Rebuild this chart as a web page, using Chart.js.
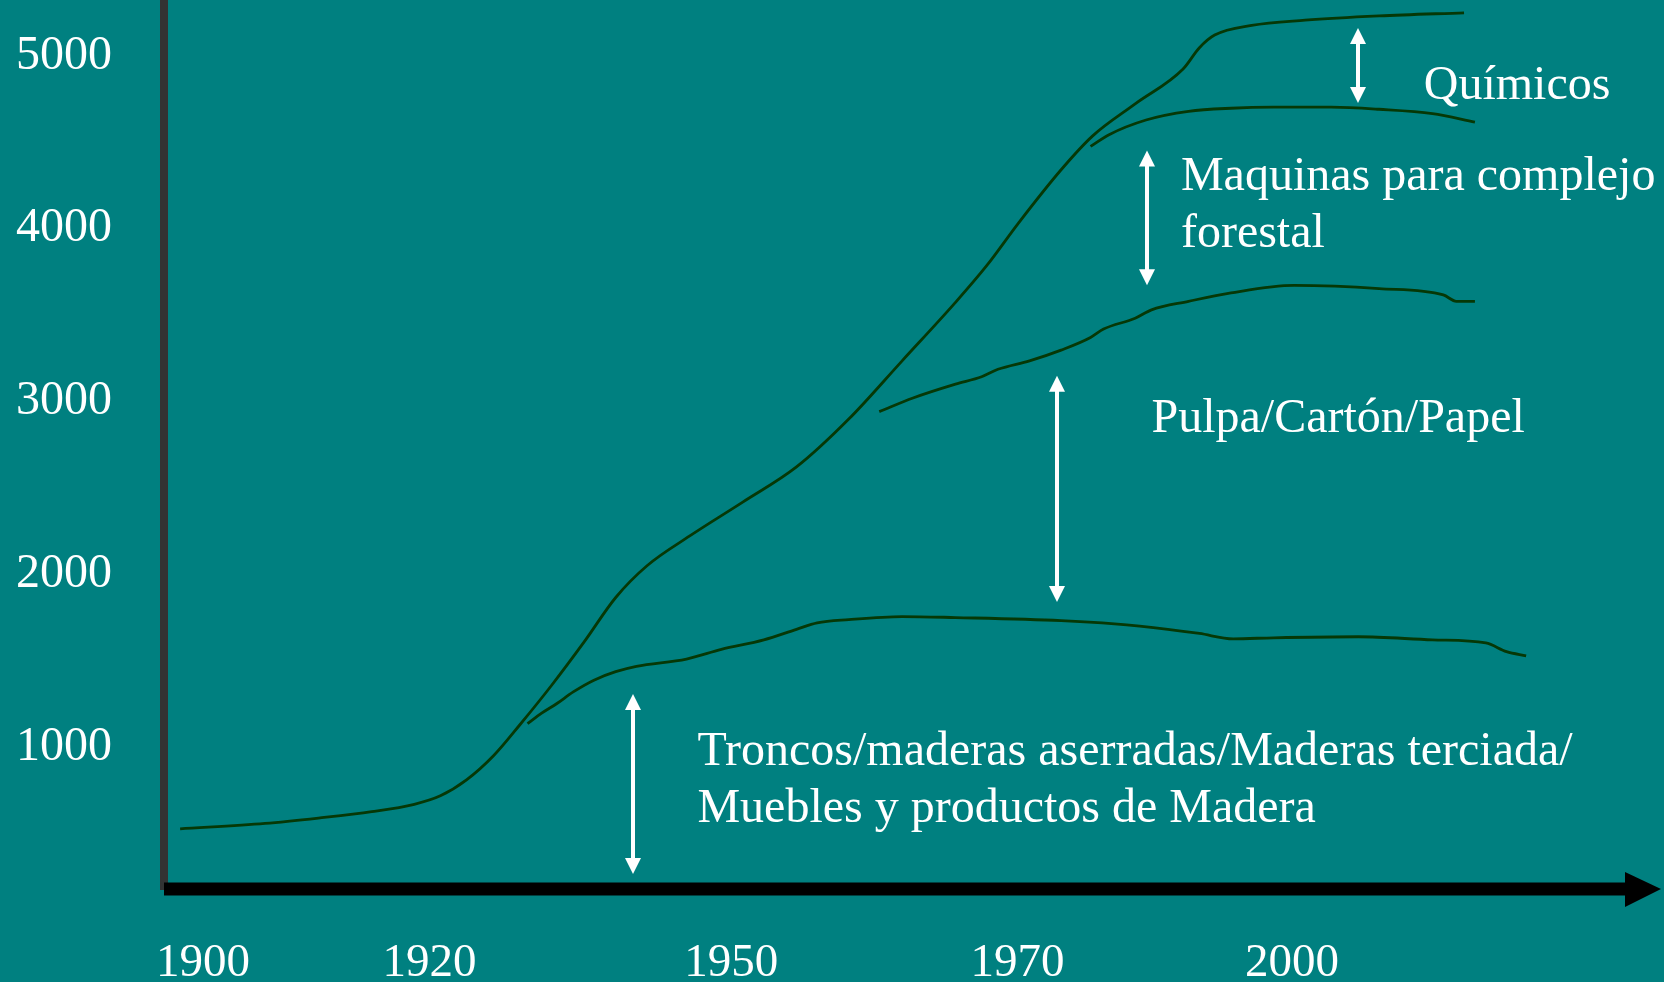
<!DOCTYPE html>
<html><head><meta charset="utf-8">
<script src="https://cdn.jsdelivr.net/npm/chart.js@4/dist/chart.umd.min.js"></script>
<style>html,body{margin:0;padding:0;background:#008080;overflow:hidden}canvas{display:block}</style>
</head><body>
<canvas id="c" width="1664" height="982"></canvas>
<script>
// x positions are expressed in the drawing's approximate year scale
const tickYears = [1900, 1920.8, 1948.5, 1974.8, 2000];
const tickLabels = ['1900', '1920', '1950', '1970', '2000'];
const yTicks = [1000, 2000, 3000, 4000, 5000];

// Total (top of Químicos band)
const totalX = [1897.9,1905.7,1910.6,1915.5,1919.4,1921.8,1924.2,1926.7,1929.1,1932.0,1935.0,1937.9,1940.8,1944.7,1949.6,1954.5,1959.3,1964.2,1969.1,1972.0,1974.9,1978.8,1981.7,1985.6,1990.0,1991.5,1992.9,1996.3,2001.2,2008.0,2015.8];
const totalY = [512,543,574,611,654,703,795,936,1114,1341,1593,1850,2035,2206,2403,2605,2882,3219,3557,3772,4017,4324,4520,4705,4907,5030,5103,5159,5189,5214,5232];

// Top of Troncos/maderas band
const woodX = [1929.8,1931.1,1932.5,1934.0,1935.9,1937.9,1939.8,1944.4,1947.6,1951.5,1954.5,1956.4,1959.3,1964.2,1969.1,1978.8,1983.7,1988.6,1991.5,1994.6,1998.3,2006.1,2012.9,2017.8,2019.7,2021.5];
const woodY = [1120,1181,1237,1304,1372,1421,1452,1494,1550,1605,1666,1703,1722,1740,1734,1716,1697,1666,1642,1611,1617,1623,1605,1587,1537,1513];

// Top of Pulpa/Cartón/Papel band
const pulpX = [1962.1,1965.2,1969.1,1971.5,1973.0,1975.9,1978.8,1981.5,1982.7,1985.6,1987.1,1990.5,1994.4,2000.2,2008.0,2013.9,2015.1,2016.8];
const pulpY = [2925,3004,3084,3127,3170,3219,3281,3354,3403,3465,3514,3563,3612,3655,3637,3600,3563,3563];

// Top of Maquinas band
const machX = [1981.5,1983.2,1986.6,1990.5,1994.4,1998.3,2003.6,2008.0,2012.9,2016.8];
const machY = [4459,4527,4612,4662,4680,4686,4686,4674,4649,4600];

// Annotations (data units)
const arrowX = [2006.1, 1986.7, 1978.4, 1939.5];
const arrowTop = [5144, 4436, 3132, 1292];
const arrowBottom = [4710, 3656, 1824, 251];
const labelLines = [['Químicos'], ['Maquinas para complejo', 'forestal'], ['Pulpa/Cartón/Papel'], ['Troncos/maderas aserradas/Maderas terciada/', 'Muebles y productos de Madera']];
const labelX = [2012.1, 1989.8, 1987.1, 1945.4];
const labelY = [4733, 4207, 2807, 881];

const LINE = '#063806';
const FONT = '"Liberation Serif", "Times New Roman", serif';

function pts(xs, ys) { return xs.map((v, i) => ({x: v, y: ys[i]})); }
function ds(xs, ys) {
  return {data: pts(xs, ys), borderColor: LINE, borderWidth: 2.8, pointRadius: 0, fill: false, cubicInterpolationMode: 'monotone'};
}

const overlay = {
  id: 'overlay',
  afterDraw(chart) {
    const {ctx, scales: {x, y}, chartArea: ca} = chart;
    ctx.save();
    const yb = ca.bottom;
    ctx.fillStyle = '#000';
    ctx.fillRect(ca.left, yb - 6.5, ca.right - ca.left + 1, 13);
    ctx.beginPath();
    ctx.moveTo(ca.right, yb - 17);
    ctx.lineTo(ca.right + 36, yb);
    ctx.lineTo(ca.right, yb + 18);
    ctx.closePath();
    ctx.fill();

    ctx.strokeStyle = '#fff';
    ctx.fillStyle = '#fff';
    ctx.lineWidth = 4;
    arrowX.forEach((ax, i) => {
      const px = Math.round(x.getPixelForValue(ax));
      const t = y.getPixelForValue(arrowTop[i]);
      const b = y.getPixelForValue(arrowBottom[i]);
      ctx.beginPath(); ctx.moveTo(px, t + 12); ctx.lineTo(px, b - 12); ctx.stroke();
      ctx.beginPath(); ctx.moveTo(px, t); ctx.lineTo(px - 8, t + 16); ctx.lineTo(px + 8, t + 16); ctx.closePath(); ctx.fill();
      ctx.beginPath(); ctx.moveTo(px, b); ctx.lineTo(px - 8, b - 16); ctx.lineTo(px + 8, b - 16); ctx.closePath(); ctx.fill();
    });

    ctx.font = '48px ' + FONT;
    ctx.textBaseline = 'alphabetic';
    ctx.textAlign = 'left';
    labelLines.forEach((lines, i) => {
      const px = x.getPixelForValue(labelX[i]);
      const py = y.getPixelForValue(labelY[i]);
      lines.forEach((l, j) => ctx.fillText(l, px, py + j * 57));
    });
    ctx.restore();
  }
};

new Chart(document.getElementById('c'), {
  type: 'line',
  data: {datasets: [ds(totalX, totalY), ds(woodX, woodY), ds(pulpX, pulpY), ds(machX, machY)]},
  options: {
    responsive: false,
    animation: false,
    layout: {padding: {left: 0, right: 39, top: 0, bottom: 0}},
    plugins: {legend: {display: false}, tooltip: {enabled: false}},
    scales: {
      x: {
        type: 'linear', min: 1896.42, max: 2030.58,
        afterBuildTicks: s => { s.ticks = tickYears.map(v => ({value: v})); },
        afterFit: s => { s.height = 93; s.paddingLeft = 0; s.paddingRight = 0; },
        grid: {display: true, drawOnChartArea: false, drawTicks: false, color: 'rgba(0,0,0,0)'},
        border: {display: false},
        ticks: {
          color: '#fff', font: {family: FONT, size: 47}, padding: 46, maxRotation: 0, autoSkip: false,
          callback: (v) => { const i = tickYears.indexOf(v); return i >= 0 ? tickLabels[i] : ''; }
        }
      },
      y: {
        type: 'linear', min: 164, max: 5306,
        afterBuildTicks: s => { s.ticks = yTicks.map(v => ({value: v})); },
        afterFit: s => { s.width = 164; s.paddingTop = 0; s.paddingBottom = 0; },
        grid: {display: true, drawOnChartArea: false, drawTicks: false, color: 'rgba(0,0,0,0)'},
        border: {display: true, color: '#333333', width: 8},
        ticks: {color: '#fff', font: {family: FONT, size: 48}, padding: 52, labelOffset: 3, autoSkip: false, callback: v => String(v)}
      }
    }
  },
  plugins: [overlay]
});
</script>
</body></html>
